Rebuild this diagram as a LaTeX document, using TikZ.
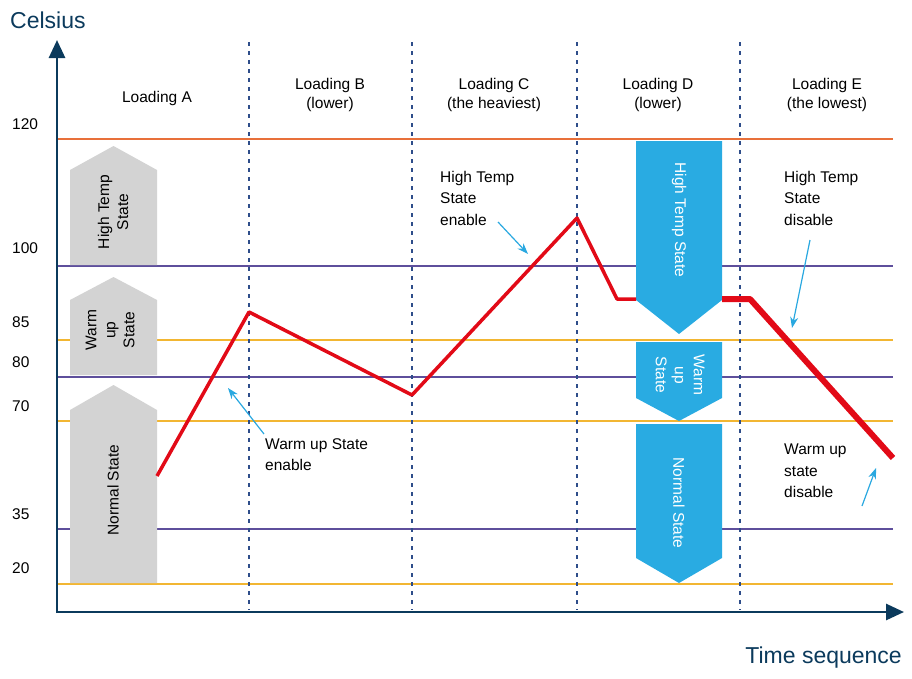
\documentclass[tikz,border=0pt]{standalone}
\usepackage{fontspec}
\setmainfont{Liberation Sans}
\usetikzlibrary{arrows.meta}
\definecolor{axc}{HTML}{0B3A5C}
\definecolor{orl}{HTML}{E8703A}
\definecolor{pul}{HTML}{5E4F9C}
\definecolor{yel}{HTML}{F2B632}
\definecolor{gr}{HTML}{D3D3D3}
\definecolor{bl}{HTML}{29ABE2}
\definecolor{rd}{HTML}{E20A17}
\definecolor{dsh}{HTML}{2E4D8A}
\definecolor{cy}{HTML}{29A8E0}
\begin{document}
\begin{tikzpicture}[x=1pt,y=-1pt,
 txt/.style={font=\fontsize{15.5}{19}\selectfont,align=center,text=black},
 ann/.style={font=\fontsize{15.5}{21.5}\selectfont,align=left,text=black,anchor=north west,inner sep=0},
 lvl/.style={font=\fontsize{15.5}{18}\selectfont,anchor=west,inner sep=0},
 hl/.style={line width=1.2pt},
 vd/.style={dsh,line width=2.5pt,dash pattern=on 4pt off 5pt},
 ca/.style={cy,line width=1.2pt,-{Stealth[length=11pt,width=8pt]}}]
\useasboundingbox (0,0) rectangle (912,678);
% horizontal levels
\draw[hl,orl] (57,139) -- (893,139);
\draw[hl,pul] (57,266) -- (893,266);
\draw[hl,yel] (57,340) -- (893,340);
\draw[hl,pul] (57,377) -- (893,377);
\draw[hl,yel] (57,421) -- (893,421);
\draw[hl,pul] (57,529) -- (893,529);
\draw[hl,yel] (57,584) -- (893,584);
\node[lvl] (l120) at (12,124) {120};
\node[lvl] (l100) at (12,248) {100};
\node[lvl] (l85) at (12,322) {85};
\node[lvl] (l80) at (12,362) {80};
\node[lvl] (l70) at (12,406) {70};
\node[lvl] (l35) at (12,514) {35};
\node[lvl] (l20) at (12,568) {20};
% dashed
\foreach \x in {249,412,577,740} \draw[vd] (\x,42) -- (\x,610);
% headers
\node[txt] (ha) at (157,98) {Loading A};
\node[txt] (hb) at (330,95) {Loading B\\(lower)};
\node[txt] (hc) at (494,95) {Loading C\\(the heaviest)};
\node[txt] (hd) at (658,95) {Loading D\\(lower)};
\node[txt] (he) at (827,95) {Loading E\\(the lowest)};
% gray arrows
\fill[gr] (70,265) -- (70,170) -- (113.5,146) -- (157,170) -- (157,265) -- cycle;
\fill[gr] (70,375) -- (70,300) -- (113.5,277) -- (157,300) -- (157,375) -- cycle;
\fill[gr] (70,583) -- (70,410) -- (113.5,385) -- (157,410) -- (157,583) -- cycle;
\node[txt,rotate=90] (g1) at (113,212) {High Temp\\State};
\node[txt,rotate=90] (g2) at (110,330) {Warm\\up\\State};
\node[txt,rotate=90] (g3) at (113,490) {Normal State};
% blue arrows
\fill[bl] (636,141) -- (722,141) -- (722,300) -- (679,334) -- (636,300) -- cycle;
\fill[bl] (636,342) -- (722,342) -- (722,398) -- (679,421) -- (636,398) -- cycle;
\fill[bl] (636,424) -- (722,424) -- (722,558) -- (679,583) -- (636,558) -- cycle;
\node[txt,rotate=-90,text=white] (b1) at (679,220) {High Temp State};
\node[txt,rotate=-90,text=white] (b2) at (680,375) {Warm\\up\\State};
\node[txt,rotate=-90,text=white] (b3) at (679,503) {Normal State};
% red line
\draw[rd,line width=3.5pt,line join=round] (157,476) -- (249,312) -- (412,395) -- (577,218) -- (617,299) -- (636,299);
\draw[rd,line width=6pt,line join=round] (722,299) -- (750,299) -- (893,458);
% annotations
\node[ann] (a1) at (440,171) {High Temp\\State\\enable};
\coordinate (a1e) at (528,254);
\draw[ca] (498,222) -- (a1e);
\node[ann] (a2) at (265,438) {Warm up State\\enable};
\coordinate (a2e) at (228,388);
\draw[ca] (264,434) -- (a2e);
\node[ann] (a3) at (784,171) {High Temp\\State\\disable};
\coordinate (a3e) at (792,328);
\draw[ca] (810,240) -- (a3e);
\node[ann] (a4) at (784,444) {Warm up\\state\\disable};
\coordinate (a4e) at (876,468);
\draw[ca] (862,506) -- (a4e);
% axes
\draw[axc,line width=2.8pt,-{Triangle[length=18pt,width=16pt]}] (57,613) -- (57,40);
\draw[axc,line width=2.8pt,-{Triangle[length=18pt,width=16pt]}] (56,612) -- (904,612);
\node[font=\fontsize{23}{25}\selectfont,text=axc,anchor=west,inner sep=0] (cel) at (10,20) {Celsius};
\node[font=\fontsize{23}{25}\selectfont,text=axc,anchor=east,inner sep=0] (ts) at (902,658) {Time sequence};
\end{tikzpicture}
\end{document}
